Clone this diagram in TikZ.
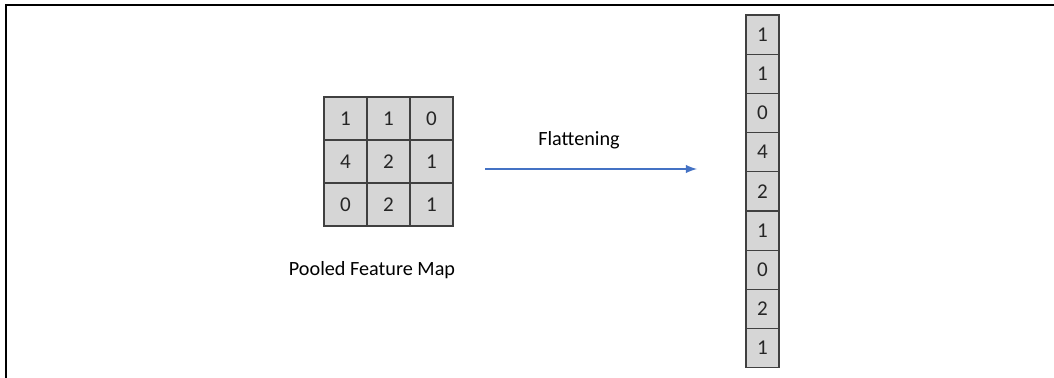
\documentclass[tikz,border=0pt]{standalone}
\usepackage{fontspec}
\setmainfont{Carlito}
\usetikzlibrary{arrows, positioning}
\definecolor{flowblue}{RGB}{68,114,196}

\begin{document}
\begin{tikzpicture}[
    x=0.02cm, y=-0.02cm,
    font=\fontsize{11.5}{13.5}\selectfont,
    cell/.style={rectangle, draw=black!75, fill=black!16, line width=0.6pt, minimum width=0.86cm, minimum height=0.86cm, inner sep=0pt, text=black!85, font=\fontsize{12}{14}\selectfont},
    vcell/.style={cell, minimum width=0.66cm, minimum height=0.784cm},
    frame/.style={draw, line width=1pt},
    flow/.style={draw, -latex, line width=1.2pt, color=flowblue}
]
    \useasboundingbox (0,0) rectangle (1054,378);

    % Outer frame (top and left edges)
    \draw [frame] (1054,5) -| (6,378);

    % Pooled feature map (3x3)
    \foreach \val [count=\i from 0] in {1,1,0,4,2,1,0,2,1} {
        \pgfmathtruncatemacro\row{int(\i/3)}
        \pgfmathtruncatemacro\col{mod(\i,3)}
        \node [cell] (pool-\row-\col) at (345.5+43*\col, 118.5+43*\row) {\val};
    }
    \node (pool_label) at (372,270) {Pooled Feature Map};

    % Flattened column
    \foreach \val [count=\i from 0] in {1,1,0,4,2,1,0,2,1}
        \node [vcell] (flat-\i) at (762.5, 34.6+39.2*\i) {\val};

    % Flattening arrow
    \coordinate (arrow_start) at (485,169);
    \coordinate (arrow_end) at (697,169);
    \path [flow] (arrow_start) -- (arrow_end);
    \node (flat_label) at (579,140) {Flattening};

\end{tikzpicture}
\end{document}
